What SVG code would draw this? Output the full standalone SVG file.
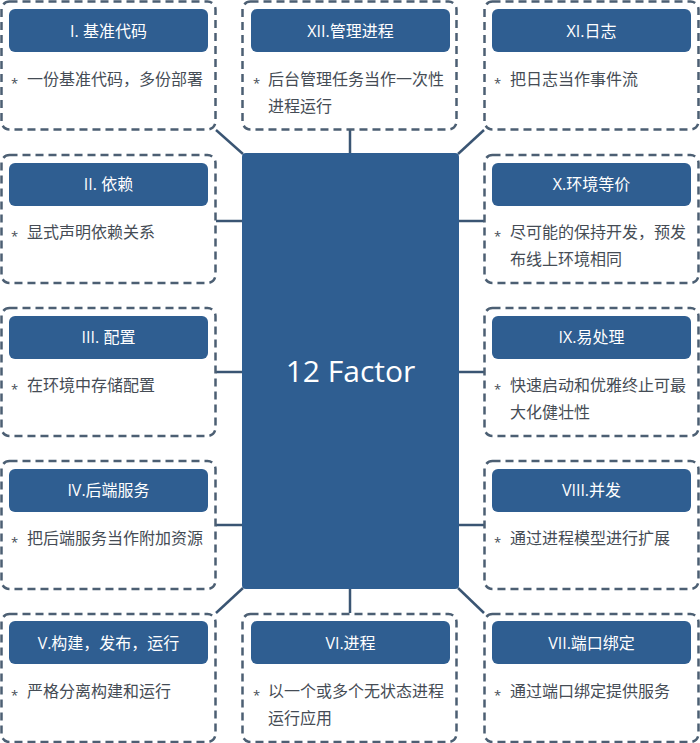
<svg xmlns="http://www.w3.org/2000/svg" width="700" height="743" viewBox="0 0 700 743">
<style>
.box{fill:#fff;stroke:#4c5f73;stroke-width:2.5;stroke-dasharray:8 5}
.hd{fill:#2f5e91}
.ht{fill:#fff;font-family:"Open Sans","Noto Sans CJK SC",sans-serif;font-size:16px;text-anchor:middle}
.bt{fill:#454c55;font-family:"Open Sans","Noto Sans CJK SC",sans-serif;font-size:16px}
.st{fill:#454c55;font-family:"Open Sans",sans-serif;font-size:13px}
.cn{stroke:#3a5573;stroke-width:2.5;fill:none}
</style>
<rect width="700" height="743" fill="#fff"/>
<g id="connectors">
<line class="cn" x1="216" y1="130" x2="243" y2="154"/>
<line class="cn" x1="350" y1="130" x2="350" y2="154"/>
<line class="cn" x1="484" y1="130" x2="458" y2="154"/>
<line class="cn" x1="216" y1="221" x2="243" y2="221"/>
<line class="cn" x1="458" y1="221" x2="484" y2="221"/>
<line class="cn" x1="216" y1="372" x2="243" y2="372"/>
<line class="cn" x1="458" y1="372" x2="484" y2="372"/>
<line class="cn" x1="216" y1="525" x2="243" y2="525"/>
<line class="cn" x1="458" y1="525" x2="484" y2="525"/>
<line class="cn" x1="216" y1="613" x2="243" y2="588"/>
<line class="cn" x1="350" y1="588" x2="350" y2="613"/>
<line class="cn" x1="484" y1="613" x2="458" y2="588"/>
</g>
<g id="center">
<rect x="242" y="153" width="217" height="436" rx="4" fill="#2f5e91"/>
<text x="350.5" y="382" fill="#fff" font-family="'Open Sans',sans-serif" font-size="30" text-anchor="middle">12 Factor</text>
</g>
<g id="n1">
<rect class="box" x="1.5" y="1.5" width="214" height="128" rx="8"/>
<rect class="hd" x="9" y="9" width="199" height="43" rx="6"/>
<text class="ht" x="108.5" y="37">I. 基准代码</text>
<text class="st" x="11" y="88">*</text>
<text class="bt" x="27" y="85">一份基准代码，多份部署</text>
</g>
<g id="n12">
<rect class="box" x="242.5" y="1.5" width="214" height="128" rx="8"/>
<rect class="hd" x="251" y="9" width="199" height="43" rx="6"/>
<text class="ht" x="350.5" y="37">XII.管理进程</text>
<text class="st" x="253" y="88">*</text>
<text class="bt" x="268" y="85">后台管理任务当作一次性</text>
<text class="bt" x="268" y="112">进程运行</text>
</g>
<g id="n11">
<rect class="box" x="484.5" y="1.5" width="214" height="128" rx="8"/>
<rect class="hd" x="492" y="9" width="199" height="43" rx="6"/>
<text class="ht" x="591.5" y="37">XI.日志</text>
<text class="st" x="494" y="88">*</text>
<text class="bt" x="510" y="85">把日志当作事件流</text>
</g>
<g id="n2">
<rect class="box" x="1.5" y="155" width="214" height="128" rx="8"/>
<rect class="hd" x="9" y="163" width="199" height="43" rx="6"/>
<text class="ht" x="108.5" y="190">II. 依赖</text>
<text class="st" x="11" y="241">*</text>
<text class="bt" x="27" y="238">显式声明依赖关系</text>
</g>
<g id="n10">
<rect class="box" x="484.5" y="155" width="214" height="128" rx="8"/>
<rect class="hd" x="492" y="163" width="199" height="43" rx="6"/>
<text class="ht" x="591.5" y="190">X.环境等价</text>
<text class="st" x="494" y="241">*</text>
<text class="bt" x="510" y="238">尽可能的保持开发，预发</text>
<text class="bt" x="510" y="265">布线上环境相同</text>
</g>
<g id="n3">
<rect class="box" x="1.5" y="308" width="214" height="128" rx="8"/>
<rect class="hd" x="9" y="316" width="199" height="43" rx="6"/>
<text class="ht" x="108.5" y="343">III. 配置</text>
<text class="st" x="11" y="394">*</text>
<text class="bt" x="27" y="391">在环境中存储配置</text>
</g>
<g id="n9">
<rect class="box" x="484.5" y="308" width="214" height="128" rx="8"/>
<rect class="hd" x="492" y="316" width="199" height="43" rx="6"/>
<text class="ht" x="591.5" y="343">IX.易处理</text>
<text class="st" x="494" y="394">*</text>
<text class="bt" x="510" y="391">快速启动和优雅终止可最</text>
<text class="bt" x="510" y="418">大化健壮性</text>
</g>
<g id="n4">
<rect class="box" x="1.5" y="461" width="214" height="128" rx="8"/>
<rect class="hd" x="9" y="469" width="199" height="43" rx="6"/>
<text class="ht" x="108.5" y="496">IV.后端服务</text>
<text class="st" x="11" y="547">*</text>
<text class="bt" x="27" y="544">把后端服务当作附加资源</text>
</g>
<g id="n8">
<rect class="box" x="484.5" y="461" width="214" height="128" rx="8"/>
<rect class="hd" x="492" y="469" width="199" height="43" rx="6"/>
<text class="ht" x="591.5" y="496">VIII.并发</text>
<text class="st" x="494" y="547">*</text>
<text class="bt" x="510" y="544">通过进程模型进行扩展</text>
</g>
<g id="n5">
<rect class="box" x="1.5" y="614" width="214" height="128" rx="8"/>
<rect class="hd" x="9" y="621" width="199" height="43" rx="6"/>
<text class="ht" x="108.5" y="649">V.构建，发布，运行</text>
<text class="st" x="11" y="700">*</text>
<text class="bt" x="27" y="697">严格分离构建和运行</text>
</g>
<g id="n6">
<rect class="box" x="242.5" y="614" width="214" height="128" rx="8"/>
<rect class="hd" x="251" y="621" width="199" height="43" rx="6"/>
<text class="ht" x="350.5" y="649">VI.进程</text>
<text class="st" x="253" y="700">*</text>
<text class="bt" x="268" y="697">以一个或多个无状态进程</text>
<text class="bt" x="268" y="724">运行应用</text>
</g>
<g id="n7">
<rect class="box" x="484.5" y="614" width="214" height="128" rx="8"/>
<rect class="hd" x="492" y="621" width="199" height="43" rx="6"/>
<text class="ht" x="591.5" y="649">VII.端口绑定</text>
<text class="st" x="494" y="700">*</text>
<text class="bt" x="510" y="697">通过端口绑定提供服务</text>
</g>
</svg>
